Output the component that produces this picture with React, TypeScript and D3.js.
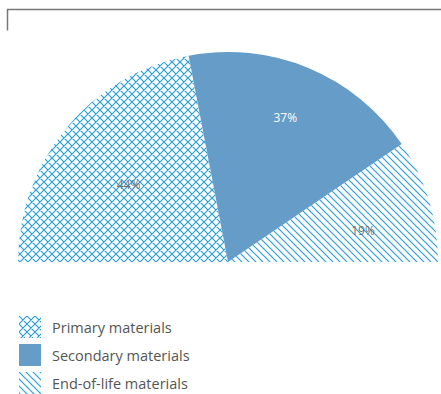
import React from "react";
import * as d3 from "d3";

const categories = ["Primary materials", "Secondary materials", "End-of-life materials"];
const shares = [44, 37, 19];
const labels = ["44%", "37%", "19%"];

const fills = ["url(#cross)", "#669cc8", "url(#diag)"];
const labelColors = ["#707070", "#ffffff", "#707070"];
const labelRadiusFrac = [0.6, 0.74, 0.66];
const labelAngleShift = [-0.03, -0.015, 0.07];

export default function App() {
  const W = 441, H = 394;
  const cx = 228, cy = 262, R = 210;
  const pie = d3.pie<number>().sort(null).value(d => d)
    .startAngle(-Math.PI / 2).endAngle(Math.PI / 2);
  const arcs = pie(shares);
  const arc = d3.arc<d3.PieArcDatum<number>>().innerRadius(0).outerRadius(R);
  const hatch = "#2a9fd8";
  return (
    <svg width={W} height={H} style={{ position: "absolute", left: 0, top: 0, fontFamily: "'Open Sans', sans-serif" }}>
      <defs>
        <pattern id="cross" patternUnits="userSpaceOnUse" width={8} height={8}>
          <path d="M0,0 L8,8 M8,0 L0,8 M-1,7 L1,9 M7,-1 L9,1 M-1,1 L1,-1 M7,9 L9,7" stroke={hatch} strokeWidth={1.2} fill="none" />
        </pattern>
        <pattern id="diag" patternUnits="userSpaceOnUse" width={7} height={7}>
          <path d="M0,0 L7,7 M-1,6 L1,8 M6,-1 L8,1" stroke={hatch} strokeWidth={1.2} fill="none" />
        </pattern>
      </defs>
      <rect x={0} y={0} width={W} height={H} fill="#fff" />
      <path d="M7.5,30.5 L7.5,9.5 L441,9.5" stroke="#777" strokeWidth={1.5} fill="none" />
      <g transform={`translate(${cx},${cy})`}>
        {arcs.map((a, i) => (
          <path key={i} d={arc(a) || ""} fill={fills[i]} />
        ))}
        {arcs.map((a, i) => {
          const r = R * labelRadiusFrac[i];
          const ang = (a.startAngle + a.endAngle) / 2 + labelAngleShift[i];
          return (
            <text key={"l" + i} x={r * Math.sin(ang)} y={-r * Math.cos(ang)} textAnchor="middle" dominantBaseline="central"
              fontSize={12} fill={labelColors[i]}>{labels[i]}</text>
          );
        })}
      </g>
      <g>
        {categories.map((c, i) => (
          <g key={c} transform={`translate(19,${316 + i * 28})`}>
            <rect width={22} height={22} fill={fills[i]} />
            <text x={33} y={11} dominantBaseline="central" fontSize={14.5} fill="#555">{c}</text>
          </g>
        ))}
      </g>
    </svg>
  );
}
